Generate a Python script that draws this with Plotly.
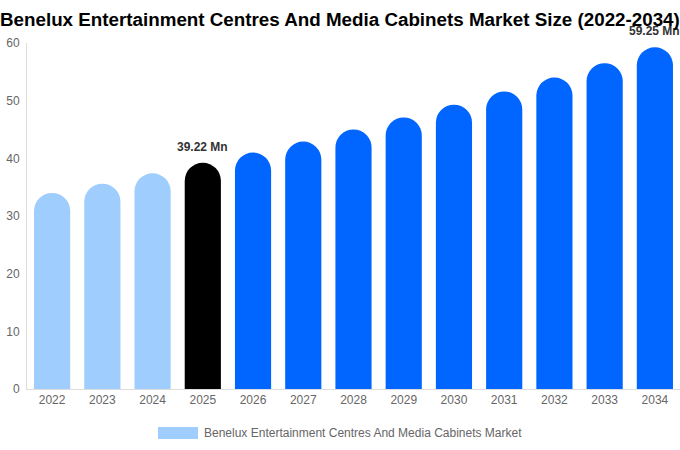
import plotly.graph_objects as go

years = ["2022", "2023", "2024", "2025", "2026", "2027", "2028", "2029", "2030", "2031", "2032", "2033", "2034"]
values = [34.0, 35.6, 37.4, 39.22, 41.0, 42.9, 45.0, 47.1, 49.3, 51.6, 54.0, 56.5, 59.25]
colors = ["#9fcdfd"] * 3 + ["#000000"] + ["#0066ff"] * 9
series_name = "Benelux Entertainment Centres And Media Cabinets Market"
title = "Benelux Entertainment Centres And Media Cabinets Market Size (2022-2034)"
labeled = {"2025": "39.22 Mn", "2034": "59.25 Mn"}

PL, PW, PH = 27, 653, 346

fig = go.Figure()
fig.add_trace(go.Bar(
    x=years, y=values, name=series_name,
    marker=dict(color=colors, cornerradius=18, line=dict(width=0)),
    showlegend=False, hoverinfo="x+y",
))

for yr, txt in labeled.items():
    i = years.index(yr)
    fig.add_annotation(x=i, y=values[i], text=f"<b>{txt}</b>", showarrow=False,
                       yanchor="bottom", yshift=7,
                       font=dict(size=12, color="#333333", family="Liberation Sans, Arial"))

# title
fig.add_annotation(xref="paper", yref="paper", x=-(PL + 2) / PW, y=1 + 23 / PH,
                   xanchor="left", yanchor="middle", showarrow=False,
                   text=f"<b>{title}</b>",
                   font=dict(size=18.8, color="#000000", family="Liberation Sans, Arial"))

# legend (drawn manually for wide swatch)
fig.add_shape(type="rect", xref="paper", yref="paper",
              x0=(158 - PL) / PW, x1=(198 - PL) / PW, y0=-50 / PH, y1=-38 / PH,
              fillcolor="#9fcdfd", line=dict(width=0))
fig.add_annotation(xref="paper", yref="paper", x=(202 - PL) / PW, y=-44 / PH,
                   xanchor="left", yanchor="middle", showarrow=False,
                   text=series_name, font=dict(size=12, color="#666666"))

fig.update_layout(
    width=680, height=450,
    margin=dict(l=PL, r=0, t=43, b=61),
    paper_bgcolor="white", plot_bgcolor="white",
    font=dict(family="Liberation Sans, Arial", color="#666666", size=12),
    bargap=0.28,
    xaxis=dict(type="category", range=[-0.5, 12.5], showline=True, linecolor="#dddddd",
               linewidth=1, ticks="", tickfont=dict(size=12, color="#666666"), showgrid=False),
    yaxis=dict(range=[0, 60], dtick=10, showline=True, linecolor="#dddddd", linewidth=1,
               showgrid=False, zeroline=False, ticks="", ticklabelstandoff=4,
               tickfont=dict(size=12, color="#666666")),
)

fig.write_html("out.html", config={"displayModeBar": False},
               post_script="document.body.style.margin='0';")
